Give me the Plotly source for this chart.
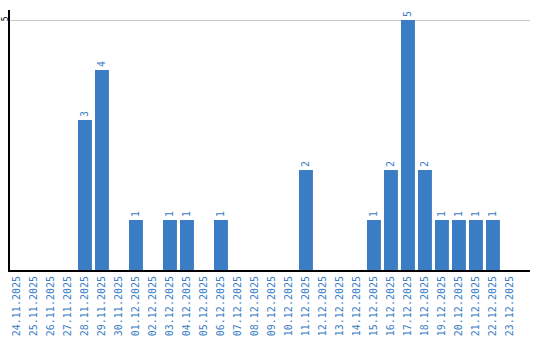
import plotly.graph_objects as go

dates = ["24.11.2025","25.11.2025","26.11.2025","27.11.2025","28.11.2025","29.11.2025",
         "30.11.2025","01.12.2025","02.12.2025","03.12.2025","04.12.2025","05.12.2025",
         "06.12.2025","07.12.2025","08.12.2025","09.12.2025","10.12.2025","11.12.2025",
         "12.12.2025","13.12.2025","14.12.2025","15.12.2025","16.12.2025","17.12.2025",
         "18.12.2025","19.12.2025","20.12.2025","21.12.2025","22.12.2025","23.12.2025"]
counts = [0,0,0,0,3,4,0,1,0,1,1,0,1,0,0,0,0,2,0,0,0,1,2,5,2,1,1,1,1,0]
labels = [str(v) if v else "" for v in counts]

blue = "#3b7dc4"
fig = go.Figure(go.Bar(
    x=dates, y=counts, text=labels, textposition="outside", textangle=-90,
    textfont=dict(color=blue, size=10, family="DejaVu Sans Mono"),
    marker=dict(color=blue, line=dict(width=0)), cliponaxis=False,
))
fig.update_layout(
    width=540, height=340, margin=dict(l=10, r=10, t=10, b=70),
    plot_bgcolor="white", paper_bgcolor="white", bargap=0.18, showlegend=False,
    uniformtext=dict(minsize=10, mode="show"),
)
fig.update_xaxes(type="category", range=[-0.41, 30.18], showline=True, linecolor="black",
                 linewidth=2, tickangle=-90, ticks="", showgrid=False, automargin=False,
                 tickfont=dict(color=blue, size=10, family="DejaVu Sans Mono"))
fig.update_yaxes(range=[0, 5.2], tickvals=[5], ticktext=["5"], tickangle=-90,
                 showline=True, linecolor="black", linewidth=2, showgrid=True,
                 gridcolor="#c8c8c8", gridwidth=1, zeroline=False, ticks="", automargin=False,
                 ticklabelstandoff=-3,
                 tickfont=dict(color="black", size=8, family="DejaVu Sans Mono"))
fig.write_html("out.html")
